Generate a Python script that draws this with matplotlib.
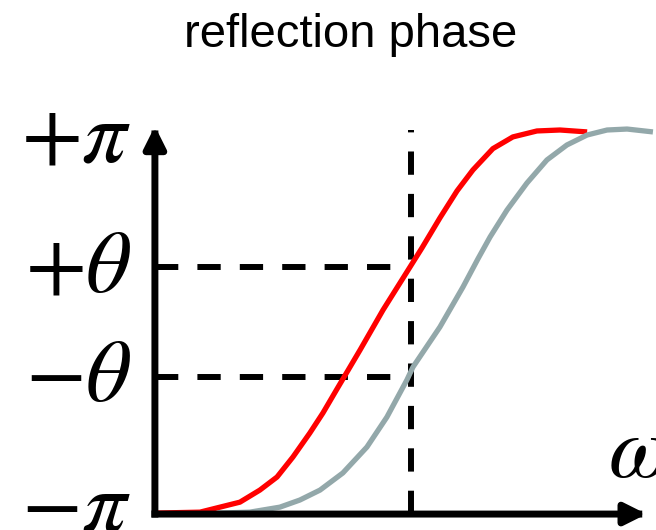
import numpy as np
import matplotlib
matplotlib.use('Agg')
import matplotlib.pyplot as plt

plt.rcParams['mathtext.fontset'] = 'stix'

# phase in units of pi, frequency in units of omega_0
theta = 0.285
omega0 = 1.0

red_w = [0.0, 0.176, 0.254, 0.332, 0.410, 0.477, 0.539, 0.605, 0.656, 0.711, 0.801,
         0.891, 0.996, 1.043, 1.113, 1.180, 1.242, 1.320, 1.398, 1.492, 1.582, 1.688]
red_phase = [-0.995, -0.990, -0.964, -0.938, -0.875, -0.807, -0.703, -0.578, -0.474, -0.349, -0.146,
             0.063, 0.286, 0.386, 0.542, 0.683, 0.792, 0.903, 0.964, 0.995, 1.0, 0.990]

gray_w = [0.246, 0.371, 0.488, 0.566, 0.645, 0.734, 0.828, 0.906, 0.984, 1.008, 1.113,
          1.203, 1.262, 1.309, 1.375, 1.453, 1.531, 1.609, 1.688, 1.766, 1.844, 1.945]
gray_phase = [-0.995, -0.990, -0.964, -0.927, -0.875, -0.786, -0.651, -0.495, -0.302, -0.234, -0.026,
              0.182, 0.330, 0.443, 0.583, 0.724, 0.844, 0.922, 0.974, 1.0, 1.005, 0.990]

tick_vals = [1.0, theta, -theta, -1.0]
tick_labels = [r'$+\pi$', r'$+\theta$', r'$-\theta$', r'$-\pi$']
label_shift = [-0.035, 0.0, 0.0, 0.035]

fig = plt.figure(figsize=(6.56, 5.30), dpi=100)
ax = fig.add_axes([0, 0, 1, 1])
ax.set_xlim(-0.605, 1.957)
ax.set_ylim(-1.083, 1.677)
ax.axis('off')

# guide lines
dash = dict(color='black', lw=4.3, dashes=(3.9, 3.2))
ax.plot([0, omega0], [theta, theta], **dash)
ax.plot([0, omega0], [-theta, -theta], **dash)
ax.plot([omega0, omega0], [-1.0, 1.0], **dash)

# phase curves
ax.plot(red_w, red_phase, color='#ff0000', lw=3.8, solid_capstyle='butt',
        solid_joinstyle='round', zorder=3)
ax.plot(gray_w, gray_phase, color='#93a8aa', lw=3.8, solid_capstyle='butt',
        solid_joinstyle='round', zorder=4)

# axes with arrow heads
arrow = dict(arrowstyle='-|>', lw=5, color='black', mutation_scale=32,
             shrinkA=0, shrinkB=0, capstyle='projecting')
ax.annotate('', xy=(0, 1.02), xytext=(0, -1.0), arrowprops=arrow, zorder=5)
ax.annotate('', xy=(1.92, -1.0), xytext=(0, -1.0), arrowprops=arrow, zorder=5)

for v, lab, dv in zip(tick_vals, tick_labels, label_shift):
    ax.text(-0.09, v + dv, lab, fontsize=64, ha='right', va='center')

ax.text(1.77, -0.68, r'$\omega$', fontsize=64, ha='left', va='center')

fig.text(0.535, 0.934, 'reflection phase', fontsize=34, family='Liberation Sans',
         ha='center', va='center')

fig.savefig('out.png', dpi=100)
